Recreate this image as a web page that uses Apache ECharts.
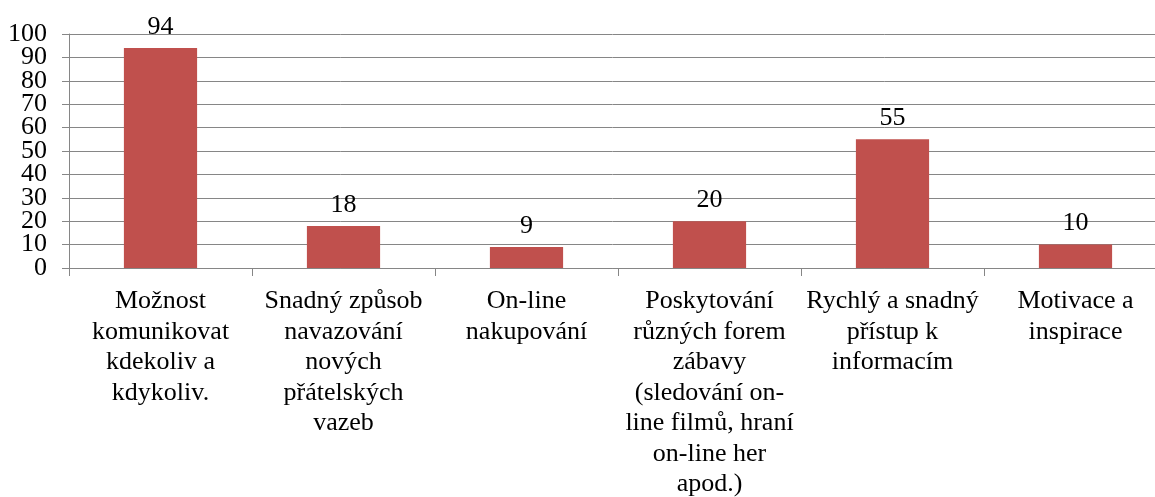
<!DOCTYPE html>
<html>
<head>
<meta charset="utf-8">
<script src="https://cdn.jsdelivr.net/npm/echarts@6/dist/echarts.min.js"></script>
<style>
  html, body { margin: 0; padding: 0; background: #fff; }
  #chart { width: 1155px; height: 497px; }
</style>
</head>
<body>
<div id="chart"></div>
<script>
// categories (line breaks as in the source chart)
var categories = [
  'Možnost\nkomunikovat\nkdekoliv a\nkdykoliv.',
  'Snadný způsob\nnavazování\nnových\npřátelských\nvazeb',
  'On-line\nnakupování',
  'Poskytování\nrůzných forem\nzábavy\n(sledování on-\nline filmů, hraní\non-line her\napod.)',
  'Rychlý a snadný\npřístup k\ninformacím',
  'Motivace a\ninspirace'
]
var values = [94, 18, 9, 20, 55, 10]
var yMin = 0
var yMax = 100
var yInterval = 10
// tick labels split over two axes, otherwise echarts drops the crowded ones
var yLabelsEven = [0, 20, 40, 60, 80, 100]
var yLabelsOdd = [10, 30, 50, 70, 90]

var font = '"Liberation Serif", "Times New Roman", serif'
var gridColor = '#868686'

var yLabelStyle = {
  margin: 22,
  color: '#000',
  fontFamily: font,
  fontSize: 26
}

var myChart = echarts.init(document.getElementById('chart'))
var option = {
  animation: false,
  grid: {
    left: 69,
    top: 34,
    width: 1098, // the original plot runs a bit past the right edge
    bottom: 229,
    containLabel: false,
    outerBoundsMode: 'none'
  },
  xAxis: {
    type: 'category',
    data: categories,
    axisLine: { show: true, lineStyle: { color: gridColor, width: 1 } },
    axisTick: { show: true, length: 8, lineStyle: { color: gridColor } },
    axisLabel: {
      interval: 0,
      margin: 18,
      color: '#000',
      fontFamily: font,
      fontSize: 26,
      lineHeight: 30.5,
      align: 'center'
    },
    splitLine: { show: false }
  },
  yAxis: [
    {
      type: 'value',
      position: 'left',
      min: yMin,
      max: yMax,
      interval: yInterval,
      axisLine: { show: true, lineStyle: { color: gridColor, width: 1 } },
      axisTick: { show: true, length: 7, lineStyle: { color: gridColor } },
      axisLabel: Object.assign({ customValues: yLabelsEven }, yLabelStyle),
      splitLine: { show: true, lineStyle: { color: gridColor, width: 1 } }
    },
    {
      type: 'value',
      position: 'left',
      min: yMin,
      max: yMax,
      interval: yInterval,
      axisLine: { show: false },
      axisTick: { show: false },
      axisLabel: Object.assign({ customValues: yLabelsOdd }, yLabelStyle),
      splitLine: { show: false }
    }
  ],
  series: [
    {
      type: 'bar',
      yAxisIndex: 0,
      data: values,
      barCategoryGap: '60%',
      itemStyle: { color: '#C0504D' },
      label: {
        show: true,
        position: 'top',
        distance: 8,
        color: '#000',
        fontFamily: font,
        fontSize: 26
      }
    }
  ]
}
myChart.setOption(option)
</script>
</body>
</html>
